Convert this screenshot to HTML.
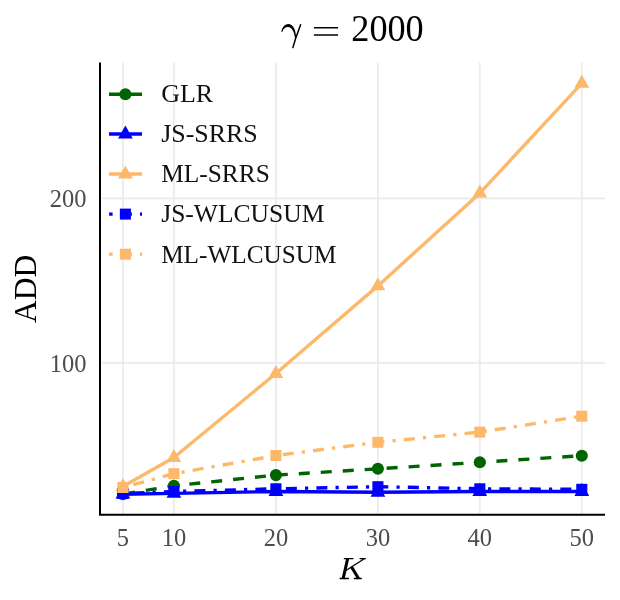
<!DOCTYPE html>
<html><head><meta charset="utf-8"><title>chart</title>
<style>
html,body{margin:0;padding:0;background:#fff;}
body{width:620px;height:600px;overflow:hidden;font-family:"Liberation Serif",serif;}
svg{display:block;will-change:transform;}
text{font-family:"Liberation Serif",serif;}
</style></head><body>
<svg width="620" height="600" viewBox="0 0 620 600">
<rect width="620" height="600" fill="#fff"/>

<g stroke="#ebebeb" stroke-width="1.7" fill="none">
<line x1="122.9" y1="62.6" x2="122.9" y2="514"/>
<line x1="173.9" y1="62.6" x2="173.9" y2="514"/>
<line x1="275.9" y1="62.6" x2="275.9" y2="514"/>
<line x1="377.9" y1="62.6" x2="377.9" y2="514"/>
<line x1="479.8" y1="62.6" x2="479.8" y2="514"/>
<line x1="581.8" y1="62.6" x2="581.8" y2="514"/>
<line x1="101.5" y1="198.3" x2="605" y2="198.3"/>
<line x1="101.5" y1="362.8" x2="605" y2="362.8"/>
</g>
<polyline points="122.9,494.2 173.9,485.7 275.9,475.1 377.9,468.8 479.8,462.3 581.8,455.7" fill="none" stroke="#006400" stroke-width="3.4" stroke-linejoin="round" stroke-dasharray="11,11" stroke-dashoffset="-1.2"/>
<circle cx="122.9" cy="494.2" r="6.05" fill="#006400"/>
<circle cx="173.9" cy="485.7" r="6.05" fill="#006400"/>
<circle cx="275.9" cy="475.1" r="6.05" fill="#006400"/>
<circle cx="377.9" cy="468.8" r="6.05" fill="#006400"/>
<circle cx="479.8" cy="462.3" r="6.05" fill="#006400"/>
<circle cx="581.8" cy="455.7" r="6.05" fill="#006400"/>
<polyline points="122.9,494.2 173.9,493.4 275.9,491.5 377.9,492.3 479.8,491.5 581.8,491.5" fill="none" stroke="#0000ff" stroke-width="3.4" stroke-linejoin="round"/>
<polygon points="122.9,485.6 115.5,498.6 130.3,498.6" fill="#0000ff"/>
<polygon points="173.9,484.8 166.5,497.8 181.3,497.8" fill="#0000ff"/>
<polygon points="275.9,482.9 268.5,495.9 283.3,495.9" fill="#0000ff"/>
<polygon points="377.9,483.7 370.5,496.8 385.3,496.8" fill="#0000ff"/>
<polygon points="479.8,482.9 472.4,495.9 487.2,495.9" fill="#0000ff"/>
<polygon points="581.8,482.9 574.4,495.9 589.2,495.9" fill="#0000ff"/>
<polyline points="122.9,486.6 173.9,457.5 275.9,373.5 377.9,285.9 479.8,193.2 581.8,83.3" fill="none" stroke="#fdb86a" stroke-width="3.4" stroke-linejoin="round"/>
<polygon points="122.9,478.0 115.5,491.1 130.3,491.1" fill="#fdb86a"/>
<polygon points="173.9,448.9 166.5,461.9 181.3,461.9" fill="#fdb86a"/>
<polygon points="275.9,364.9 268.5,377.9 283.3,377.9" fill="#fdb86a"/>
<polygon points="377.9,277.3 370.5,290.3 385.3,290.3" fill="#fdb86a"/>
<polygon points="479.8,184.6 472.4,197.6 487.2,197.6" fill="#fdb86a"/>
<polygon points="581.8,74.7 574.4,87.8 589.2,87.8" fill="#fdb86a"/>
<polyline points="122.9,493.5 173.9,491.5 275.9,488.8 377.9,486.7 479.8,488.8 581.8,489.3" fill="none" stroke="#0000ff" stroke-width="3.4" stroke-linejoin="round" stroke-dasharray="3.2,8.15,11,8.15" stroke-dashoffset="0.8"/>
<rect x="117.35" y="488.00" width="11.1" height="11" fill="#0000ff"/>
<rect x="168.35" y="486.00" width="11.1" height="11" fill="#0000ff"/>
<rect x="270.35" y="483.30" width="11.1" height="11" fill="#0000ff"/>
<rect x="372.35" y="481.20" width="11.1" height="11" fill="#0000ff"/>
<rect x="474.25" y="483.30" width="11.1" height="11" fill="#0000ff"/>
<rect x="576.25" y="483.80" width="11.1" height="11" fill="#0000ff"/>
<polyline points="122.9,487.5 173.9,473.7 275.9,455.5 377.9,442.3 479.8,432.1 581.8,416.2" fill="none" stroke="#fdb86a" stroke-width="3.4" stroke-linejoin="round" stroke-dasharray="3.2,8.15,11,8.15" stroke-dashoffset="0.5"/>
<rect x="117.35" y="482.00" width="11.1" height="11" fill="#fdb86a"/>
<rect x="168.35" y="468.20" width="11.1" height="11" fill="#fdb86a"/>
<rect x="270.35" y="450.00" width="11.1" height="11" fill="#fdb86a"/>
<rect x="372.35" y="436.80" width="11.1" height="11" fill="#fdb86a"/>
<rect x="474.25" y="426.60" width="11.1" height="11" fill="#fdb86a"/>
<rect x="576.25" y="410.70" width="11.1" height="11" fill="#fdb86a"/>
<path d="M100,62.6 V514.8 H605" fill="none" stroke="#000" stroke-width="2" stroke-linejoin="miter"/>
<line x1="109" y1="94.2" x2="142" y2="94.2" stroke="#006400" stroke-width="3.4"/><circle cx="125.4" cy="94.2" r="6.05" fill="#006400"/>
<line x1="109" y1="134" x2="142" y2="134" stroke="#0000ff" stroke-width="3.4"/><polygon points="125.4,125.4 118.0,138.4 132.8,138.4" fill="#0000ff"/>
<line x1="109" y1="174" x2="142" y2="174" stroke="#fdb86a" stroke-width="3.4"/><polygon points="125.4,165.4 118.0,178.4 132.8,178.4" fill="#fdb86a"/>
<rect x="109.1" y="212.45" width="3.5" height="3.3" fill="#0000ff"/><rect x="140" y="212.45" width="2" height="3.3" fill="#0000ff"/><rect x="131" y="212.45" width="0.9" height="3.3" fill="#0000ff"/><rect x="119.85" y="208.60" width="11.1" height="11" fill="#0000ff"/>
<rect x="109.1" y="252.55" width="3.5" height="3.3" fill="#fdb86a"/><rect x="140" y="252.55" width="2" height="3.3" fill="#fdb86a"/><rect x="131" y="252.55" width="0.9" height="3.3" fill="#fdb86a"/><rect x="119.85" y="248.70" width="11.1" height="11" fill="#fdb86a"/>
<text x="161.2" y="102.45" font-size="26.1" fill="#111" textLength="52.0" lengthAdjust="spacingAndGlyphs">GLR</text>
<text x="161.2" y="142.45" font-size="26.1" fill="#111" textLength="96.6" lengthAdjust="spacingAndGlyphs">JS-SRRS</text>
<text x="161.2" y="182.4" font-size="26.1" fill="#111" textLength="108.6" lengthAdjust="spacingAndGlyphs">ML-SRRS</text>
<text x="161.2" y="222.45" font-size="26.1" fill="#111" textLength="163.2" lengthAdjust="spacingAndGlyphs">JS-WLCUSUM</text>
<text x="161.2" y="262.55" font-size="26.1" fill="#111" textLength="175.2" lengthAdjust="spacingAndGlyphs">ML-WLCUSUM</text>
<text x="122.9" y="546" font-size="24.5" fill="#4d4d4d" text-anchor="middle">5</text>
<text x="173.9" y="546" font-size="24.5" fill="#4d4d4d" text-anchor="middle">10</text>
<text x="275.9" y="546" font-size="24.5" fill="#4d4d4d" text-anchor="middle">20</text>
<text x="377.9" y="546" font-size="24.5" fill="#4d4d4d" text-anchor="middle">30</text>
<text x="479.8" y="546" font-size="24.5" fill="#4d4d4d" text-anchor="middle">40</text>
<text x="581.8" y="546" font-size="24.5" fill="#4d4d4d" text-anchor="middle">50</text>
<text x="86.5" y="207.2" font-size="24.5" fill="#4d4d4d" text-anchor="end">200</text>
<text x="86.5" y="371.6" font-size="24.5" fill="#4d4d4d" text-anchor="end">100</text>
<text transform="translate(36.4,323) rotate(-90)" font-size="31.3" fill="#000" textLength="68.2" lengthAdjust="spacingAndGlyphs">ADD</text>
<g stroke="#000" fill="none" stroke-linecap="butt"><path d="M347.7,558.4 L343.1,578.8 M351.3,566.6 L358.7,578.8" stroke-width="3.0"/><path d="M343.8,558.7 H353.4 M359.6,558.7 H365.8 M339.6,578.5 H348.9 M353.8,578.5 H361.8 M364.3,558.8 L345.6,570.8" stroke-width="1.3"/></g>
<path d="M281.3,31.7 C282.3,27 285,24.1 288.4,24.1 C292.8,24.1 295.4,29 296.2,37.2 L295.3,39.6 C294.4,31.8 292,27 288,26.9 C285.2,26.9 283.4,28.6 282.2,31.9 Z" fill="#000"/><path d="M300.6,24.7 L295.6,38.5 L292.9,47.6" stroke="#000" stroke-width="1.5" fill="none" stroke-linecap="round" stroke-linejoin="round"/>
<path d="M313.9,27.8 H338.1 M313.9,35.1 H338.1" stroke="#000" stroke-width="1.5" fill="none"/>
<text x="351.3" y="40.9" font-size="37.3" fill="#000" textLength="72.4" lengthAdjust="spacingAndGlyphs">2000</text>
</svg></body></html>
